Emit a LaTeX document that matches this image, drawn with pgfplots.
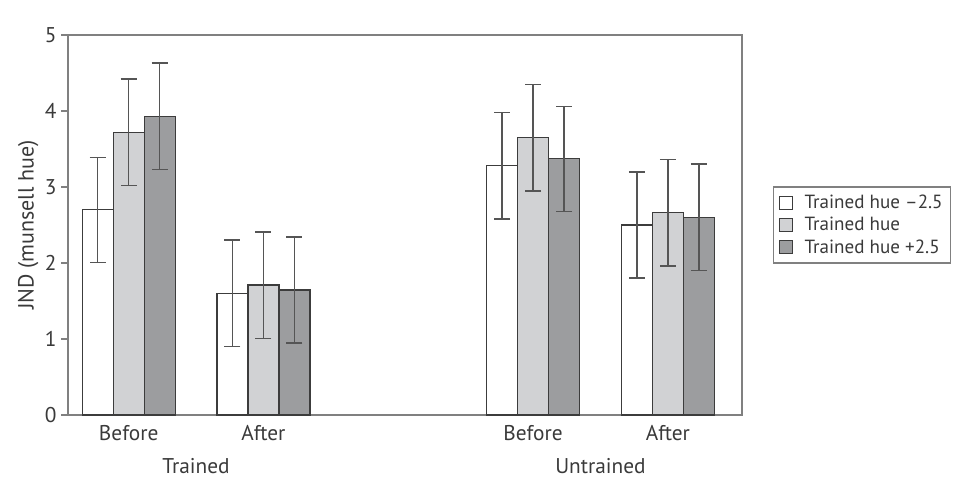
\documentclass[border=0pt]{standalone}
\usepackage{pgfplots}
\pgfplotsset{compat=1.18}
\usepackage{fontspec}
\setmainfont{PT Sans}
\definecolor{barlight}{HTML}{D1D2D4}
\definecolor{bardark}{HTML}{9C9D9F}
\definecolor{edgec}{HTML}{3C3C3C}
\definecolor{errc}{HTML}{555555}
\definecolor{framec}{HTML}{808080}
\definecolor{textc}{HTML}{3A3A3A}
\begin{document}
\begin{tikzpicture}[x=0.75pt,y=0.75pt]
\useasboundingbox (-68,-65) rectangle (905,415);
\begin{axis}[
  at={(0,0)}, anchor=south west,
  scale only axis,
  width=505.5pt, height=285pt,
  xmin=-0.45, xmax=4.55,
  ymin=0, ymax=5,
  ybar, bar width=0.23,
  ytick={0,1,2,3,4,5},
  xtick={0,1,3,4},
  xticklabels={Before,After,Before,After},
  major x tick style={draw=none},
  tick align=outside,
  ytick pos=left,
  major tick length=5pt,
  tick style={color=framec, line width=0.9pt},
  axis line style={draw=framec, line width=1pt},
  tick label style={font=\fontsize{16}{18}\selectfont, color=textc},
  /pgf/number format/assume math mode=true,
  ylabel={JND (munsell hue)},
  ylabel style={font=\fontsize{16.5}{18}\selectfont, color=textc, yshift=-2pt},
  xticklabel style={yshift=1pt},
  legend style={at={(1.046,0.5)}, anchor=west, draw=framec, line width=0.8pt,
    font=\fontsize{14.3}{16}\selectfont, text=textc, row sep=1pt,
    inner xsep=4pt, inner ysep=4pt, cells={anchor=west}},
  legend image code/.code={
    \draw[#1, line width=0.6pt] (0pt,-5pt) rectangle (10pt,5pt);
    \path[draw=none, fill=none] (0pt,0pt) rectangle (17pt,0.1pt);},
  error bars/error bar style={color=errc, line width=1.1pt},
  error bars/error mark options={rotate=90, mark size=6pt, line width=1.1pt, color=errc},
  clip=false,
]
\addplot[bar shift=-0.23, fill=white, draw=edgec, line width=0.9pt,
  error bars/.cd, y dir=both, y explicit]
  coordinates {(0,2.70) +- (0,0.69) (1,1.60) +- (0,0.70) (3,3.28) +- (0,0.70) (4,2.50) +- (0,0.70)};
\addlegendentry{Trained hue –2.5}
\addplot[bar shift=0, fill=barlight, draw=edgec, line width=0.9pt,
  error bars/.cd, y dir=both, y explicit]
  coordinates {(0,3.72) +- (0,0.70) (1,1.71) +- (0,0.70) (3,3.65) +- (0,0.70) (4,2.66) +- (0,0.70)};
\addlegendentry{Trained hue}
\addplot[bar shift=0.23, fill=bardark, draw=edgec, line width=0.9pt,
  error bars/.cd, y dir=both, y explicit]
  coordinates {(0,3.93) +- (0,0.70) (1,1.645) +- (0,0.70) (3,3.37) +- (0,0.69) (4,2.60) +- (0,0.70)};
\addlegendentry{Trained hue +2.5}
\node[font=\fontsize{16}{18}\selectfont, text=textc] at (axis cs:0.5,0) [yshift=-38pt] {Trained};
\node[font=\fontsize{16}{18}\selectfont, text=textc] at (axis cs:3.5,0) [yshift=-38pt] {Untrained};
\end{axis}
\end{tikzpicture}
\end{document}
